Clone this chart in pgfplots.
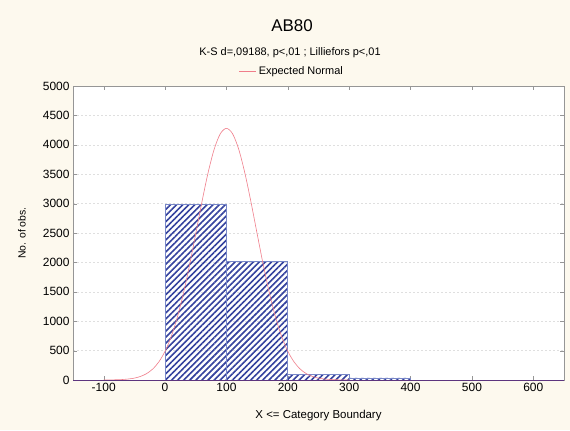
\documentclass[border=0pt]{standalone}
\usepackage{pgfplots}
\pgfplotsset{compat=1.18}
\usepackage{fontspec}
\setmainfont{Liberation Sans}
\usetikzlibrary{patterns.meta}
\definecolor{cream}{RGB}{253,249,238}
\definecolor{hatch}{RGB}{52,66,158}
\definecolor{barline}{RGB}{120,135,200}
\definecolor{normred}{RGB}{240,125,138}
\definecolor{boxgray}{RGB}{150,150,150}
\begin{document}
\begin{tikzpicture}[x=1bp,y=1bp]
\fill[cream] (0,0) rectangle (570,430);
\node[font=\fontsize{17}{19}\selectfont] at (292,404) {AB80};
\node[font=\fontsize{11}{13}\selectfont] at (290,377) {K-S d=,09188, p<,01 ; Lilliefors p<,01};
\begin{axis}[
    at={(73bp,50bp)}, anchor=south west,
    scale only axis,
    width=491bp, height=294bp,
    xmin=-150, xmax=650,
    ymin=0, ymax=5000,
    xtick={-100,0,...,600},
    ytick={0,500,...,5000},
    axis background/.style={fill=white},
    axis line style={boxgray},
    tick style={boxgray},
    tick align=inside,
    ymajorgrids,
    grid style={dash pattern=on 2bp off 2bp, gray!25},
    scaled y ticks=false,
    /pgf/number format/assume math mode=true,
    /pgf/number format/1000 sep={},
    tick label style={font=\fontsize{12}{14}\selectfont},
    xlabel={X <= Category Boundary},
    ylabel={No. of obs.},
    xlabel style={font=\fontsize{11.5}{13}\selectfont,
        at={(axis description cs:0.5,-0.12)}, anchor=center},
    ylabel style={font=\fontsize{10.5}{12}\selectfont,
        at={(axis description cs:-0.104,0.5)}, anchor=center},
    legend style={at={(0.446,1.051)}, anchor=center, draw=none, fill=none,
        font=\fontsize{11}{13}\selectfont},
    legend cell align=left,
]
\addplot[ybar interval, draw=barline, line width=0.7pt,
    pattern={Lines[angle=45,distance=4.3bp,line width=1.6bp]}, pattern color=hatch,
    forget plot]
    coordinates {(0,2980) (100,2020) (200,100) (300,35) (400,35)};
\addplot[normred, line width=0.6pt, smooth] coordinates {
    (-100,0) (-80,4) (-70,8) (-60,17) (-50,32) (-40,61) (-30,109) (-20,188)
    (-10,310) (0,489) (10,738) (20,1067) (30,1478) (40,1959) (50,2488)
    (60,3025) (70,3521) (80,3924) (90,4188) (100,4280) (110,4188) (120,3924)
    (130,3521) (140,3025) (150,2488) (160,1959) (170,1478) (180,1067)
    (190,738) (200,489) (210,310) (220,188) (230,109) (240,61) (250,32)
    (260,17) (270,8) (280,4) (300,0)};
\addlegendentry{Expected Normal}
\draw[color=hatch!80!red, line width=0.8pt] (rel axis cs:0,0) -- (rel axis cs:1,0);
\end{axis}
\end{tikzpicture}
\end{document}
